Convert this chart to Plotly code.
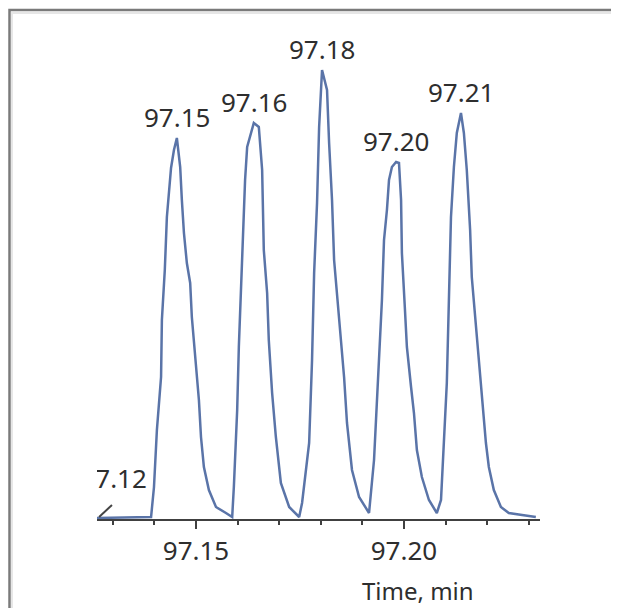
import plotly.graph_objects as go

# ---- data ----
time_min = [97.1260, 97.1392, 97.1399, 97.1406, 97.1416, 97.1418, 97.1425, 97.1430, 97.1440, 97.1447,
            97.1454, 97.1462, 97.1466, 97.1471, 97.1478, 97.1486, 97.1490, 97.1495, 97.1500, 97.1507,
            97.1512, 97.1519, 97.1531, 97.1548, 97.1572, 97.1587, 97.1591, 97.1599, 97.1603, 97.1611,
            97.1618, 97.1623, 97.1639, 97.1651, 97.1659, 97.1663, 97.1671, 97.1675, 97.1683, 97.1692,
            97.1704, 97.1724, 97.1748, 97.1755, 97.1772, 97.1779, 97.1784, 97.1791, 97.1796, 97.1803,
            97.1815, 97.1820, 97.1827, 97.1832, 97.1839, 97.1849, 97.1856, 97.1863, 97.1875, 97.1892,
            97.1916, 97.1928, 97.1940, 97.1947, 97.1952, 97.1959, 97.1964, 97.1971, 97.1981, 97.1988,
            97.1993, 97.1995, 97.2002, 97.2007, 97.2017, 97.2024, 97.2031, 97.2043, 97.2060, 97.2079,
            97.2089, 97.2096, 97.2103, 97.2108, 97.2113, 97.2120, 97.2127, 97.2137, 97.2144, 97.2151,
            97.2159, 97.2163, 97.2173, 97.2180, 97.2188, 97.2197, 97.2204, 97.2216, 97.2233, 97.2252,
            97.2284, 97.2317]
intensity = [0, 1, 31, 88, 141, 198, 248, 301, 350, 368,
             380, 351, 318, 285, 255, 235, 201, 175, 145, 118,
             81, 51, 28, 11, 5, 1, 31, 108, 171, 255,
             338, 371, 395, 391, 348, 268, 225, 178, 125, 81,
             35, 11, 1, 15, 75, 158, 245, 315, 391, 448,
             428, 375, 318, 258, 225, 181, 141, 95, 48, 21,
             5, 58, 158, 218, 278, 308, 338, 351, 356, 355,
             318, 265, 211, 171, 131, 105, 68, 41, 18, 5,
             18, 85, 135, 218, 301, 351, 385, 405, 385, 348,
             288, 241, 191, 151, 111, 75, 51, 28, 11, 5,
             3, 1]

peak_times = [97.1454, 97.1639, 97.1803, 97.1981, 97.2137]
peak_heights = [380, 395, 448, 356, 405]
peak_labels = ["97.15", "97.16", "97.18", "97.20", "97.21"]

# label of a peak just left of the shown window (gets clipped by the plot area)
offscreen_label = "97.12"
offscreen_label_x = [97.1302]
offscreen_label_y = [37]
leader_x = [97.1267, 97.1298]
leader_y = [1, 13]

x_range = [97.1262, 97.2327]
y_range = [-1, 488]
tick_vals = [97.15, 97.20]
tick_text = ["97.15", "97.20"]

FONT = "Noto Sans"
TXT = "#2e2e2e"
LINE = "#5a74a8"

fig = go.Figure()
fig.add_trace(go.Scatter(x=time_min, y=intensity, mode="lines",
                         line=dict(color=LINE, width=2.5), hoverinfo="x+y"))
fig.add_trace(go.Scatter(x=leader_x, y=leader_y, mode="lines",
                         line=dict(color="#444444", width=2), hoverinfo="skip"))
fig.add_trace(go.Scatter(x=offscreen_label_x, y=offscreen_label_y, mode="text",
                         text=[offscreen_label], textposition="middle center", cliponaxis=True,
                         textfont=dict(family=FONT, size=26, color=TXT), hoverinfo="skip"))

for t, h, lab in zip(peak_times, peak_heights, peak_labels):
    fig.add_annotation(x=t, y=h, text=lab, showarrow=False, yanchor="middle", yshift=21,
                       font=dict(family=FONT, size=26, color=TXT))

fig.add_annotation(xref="paper", yref="paper", x=0.7246, y=0, yshift=-71,
                   xanchor="center", yanchor="middle", text="Time, min", showarrow=False,
                   font=dict(family=FONT, size=24, color=TXT))

# outer frame (window border)
fig.add_shape(type="path", xref="paper", yref="paper",
              path="M -0.1975,-0.25 L -0.1975,1.0409 L 1.25,1.0409",
              line=dict(color="#7a7a7a", width=2.5))
fig.add_shape(type="path", xref="paper", yref="paper",
              path="M -0.1920,-0.25 L -0.1920,1.0350 L 1.25,1.0350",
              line=dict(color="#e6e6e6", width=2))
fig.add_shape(type="line", xref="paper", yref="paper",
              x0=1.1738, x1=1.1738, y0=-0.25, y1=1.03,
              line=dict(color="#e2e2e2", width=1.5))

fig.update_layout(
    width=611, height=600,
    margin=dict(l=89, r=79, t=22, b=89),
    paper_bgcolor="white", plot_bgcolor="white",
    showlegend=False,
    xaxis=dict(range=x_range, showgrid=False, zeroline=False,
               showline=True, linecolor="#404040", linewidth=2,
               tickmode="array", tickvals=tick_vals, ticktext=tick_text,
               ticks="outside", ticklen=8, tickwidth=2, tickcolor="#404040",
               tickfont=dict(family=FONT, size=26, color=TXT),
               minor=dict(dtick=0.01, tick0=97.15, ticks="outside", ticklen=4,
                          tickwidth=2, tickcolor="#404040", showgrid=False)),
    yaxis=dict(range=y_range, visible=False, showgrid=False, zeroline=False),
)

fig.write_html("out.html")
